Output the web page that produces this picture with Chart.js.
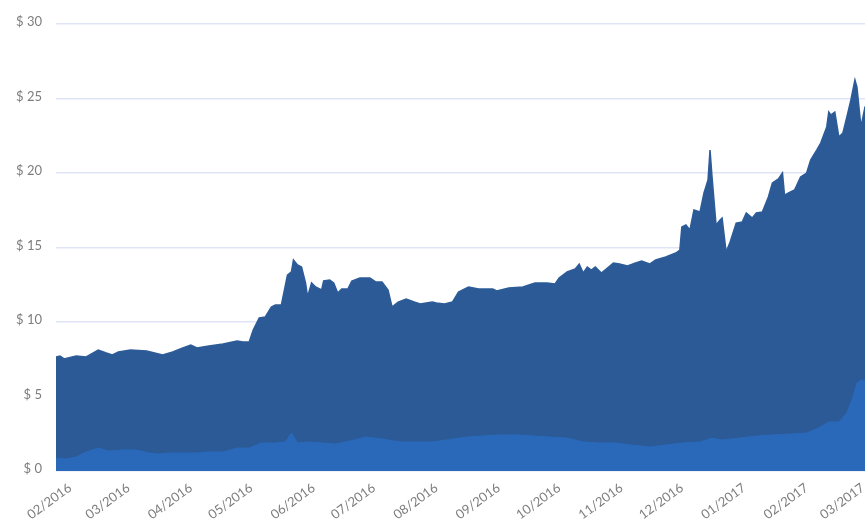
<!DOCTYPE html>
<html>
<head>
<meta charset="utf-8">
<script src="https://cdn.jsdelivr.net/npm/chart.js@4.4.0/dist/chart.umd.min.js"></script>
<style>
  html, body { margin: 0; padding: 0; background: #fff; overflow: hidden; }
  #wrap { position: relative; width: 867px; height: 524px; }
</style>
</head>
<body>
<div id="wrap"><canvas id="costChart"></canvas></div>
<script>
// x = days since 01/02/2016
const monthTicks = [0, 29, 60, 90, 121, 151, 182, 213, 243, 274, 304, 335, 366, 394];
const monthLabels = ['02/2016', '03/2016', '04/2016', '05/2016', '06/2016', '07/2016', '08/2016',
    '09/2016', '10/2016', '11/2016', '12/2016', '01/2017', '02/2017', '03/2017'];
const yTicks = [0, 5, 10, 15, 20, 25, 30];

// top of the dark area (total)
const totalDays = [-5, -3, -1, 5, 10, 16, 20, 23, 26, 32, 40, 44, 48, 53, 58, 62, 65, 71, 78, 85, 88, 91,
    93, 96, 99, 102, 104, 107, 110, 112, 113, 115, 117, 119, 120, 122, 124, 127, 128, 131, 133, 135,
    137, 140, 142, 146, 151, 154, 157, 160, 162, 165, 169, 173, 176, 182, 184, 188, 192, 195, 200,
    205, 212, 214, 220, 227, 233, 239, 243, 245, 249, 253, 255, 257, 259, 261, 263, 266, 269, 272,
    275, 279, 283, 286, 290, 293, 298, 303, 305, 306, 308, 310, 312, 315, 317, 319, 320, 321, 323,
    325, 326, 328, 330, 333, 336, 338, 341, 343, 346, 349, 351, 354, 356, 357, 359, 362, 365, 368,
    370, 373, 375, 378, 379, 380, 382, 384, 386, 388, 390, 392, 393, 395, 397, 398];
const totalValues = [7.65, 7.72, 7.52, 7.72, 7.65, 8.12, 7.92, 7.79, 7.99, 8.12, 8.05, 7.92, 7.79, 7.99,
    8.26, 8.46, 8.26, 8.39, 8.52, 8.72, 8.66, 8.66,
    9.46, 10.27, 10.34, 11.0, 11.14, 11.14, 13.15, 13.36, 14.16, 13.83, 13.69, 12.62, 11.68, 12.62,
    12.35, 12.15, 12.75, 12.82, 12.62, 11.95,
    12.21, 12.21, 12.75, 12.95, 12.95, 12.68, 12.68, 12.15, 11.0, 11.34, 11.54, 11.34, 11.21, 11.34,
    11.28, 11.21, 11.34, 12.01, 12.35,
    12.21, 12.21, 12.08, 12.28, 12.35, 12.62, 12.62, 12.55, 12.95, 13.36, 13.56, 13.89, 13.29, 13.69,
    13.49, 13.69, 13.29, 13.62, 13.96,
    13.89, 13.76, 13.96, 14.09, 13.89, 14.16, 14.36, 14.63, 14.83, 16.38, 16.51, 16.17, 17.52, 17.38,
    18.66, 19.53, 21.54, 19.73, 16.51,
    16.85, 16.98, 14.7, 15.37, 16.64, 16.71, 17.32, 16.98, 17.32, 17.38, 18.39, 19.33, 19.6, 20.0,
    18.52, 18.66, 18.86, 19.73, 20.0,
    20.87, 21.54, 22.01, 23.09, 24.09, 23.89, 24.09, 22.42, 22.68, 23.76, 24.9, 26.24, 25.77, 23.09,
    24.43, 24.6];

// top of the light area (lower component)
const baseDays = [-5, 0, 5, 10, 16, 21, 28, 35, 41, 46, 51, 58, 65, 71, 78, 85, 91, 97, 104, 109, 112,
    115, 121, 127, 134, 141, 149, 157, 166, 174, 182, 190, 199, 207, 215, 224, 232, 240, 249, 257,
    265, 273, 281, 290, 298, 306, 315, 321, 326, 335, 343, 351, 360, 368, 374, 379, 384, 388, 391,
    393, 395, 398];
const baseValues = [0.87, 0.81, 0.94, 1.28, 1.54, 1.34, 1.41, 1.41, 1.21, 1.14, 1.21, 1.21, 1.21, 1.28,
    1.28, 1.54, 1.54, 1.88, 1.88, 1.95, 2.55,
    1.88, 1.95, 1.88, 1.81, 2.01, 2.28, 2.15, 1.95, 1.95, 1.95, 2.1, 2.28, 2.35, 2.42, 2.42, 2.35,
    2.28, 2.21, 1.95,
    1.88, 1.88, 1.74, 1.61, 1.74, 1.88, 1.95, 2.21, 2.08, 2.21, 2.35, 2.42, 2.48, 2.55, 2.89, 3.29,
    3.29, 3.89, 4.97,
    5.9, 6.1, 6.1];

const toPoints = (xs, ys) => xs.map((x, i) => ({ x: x, y: ys[i] }));

const labelColor = '#7d7d7d';

new Chart(document.getElementById('costChart'), {
    type: 'line',
    data: {
        datasets: [{
            label: 'Base',
            data: toPoints(baseDays, baseValues),
            borderColor: '#2a69ba',
            backgroundColor: '#2a69ba',
            borderWidth: 1,
            pointRadius: 0,
            fill: 'origin',
            tension: 0,
            order: 0
        }, {
            label: 'Total',
            data: toPoints(totalDays, totalValues),
            borderColor: '#2d5c98',
            backgroundColor: '#2b5a96',
            borderWidth: 1.5,
            pointRadius: 0,
            fill: 'origin',
            tension: 0,
            order: 1
        }]
    },
    options: {
        responsive: true,
        maintainAspectRatio: false,
        animation: false,
        layout: { padding: { top: 24, right: 0, left: 0, bottom: 0 } },
        plugins: {
            legend: { display: false },
            tooltip: { enabled: false }
        },
        scales: {
            x: {
                type: 'linear',
                min: -5,
                max: 398,
                afterBuildTicks: function(scale) {
                    scale.ticks = monthTicks.map(v => ({ value: v }));
                },
                afterFit: function(scale) {
                    // fixed axis band, and no extra side padding for the rotated labels
                    scale.height = 53;
                    scale.paddingLeft = 0;
                    scale.paddingRight = 0;
                },
                grid: { display: false },
                border: { display: false },
                ticks: {
                    autoSkip: false,
                    minRotation: 36,
                    maxRotation: 36,
                    padding: 1,
                    labelOffset: 4,
                    color: labelColor,
                    font: { family: 'Lato', size: 13 },
                    callback: function(value) {
                        const i = monthTicks.indexOf(value);
                        return i >= 0 ? monthLabels[i] : '';
                    }
                }
            },
            y: {
                min: 0,
                max: 30,
                afterBuildTicks: function(scale) {
                    scale.ticks = yTicks.map(v => ({ value: v }));
                },
                afterFit: function(scale) {
                    scale.width = 56;
                },
                grid: {
                    color: '#e0e4f7',
                    lineWidth: 1.5,
                    drawTicks: false
                },
                border: { display: false },
                ticks: {
                    padding: 14,
                    labelOffset: -2,
                    color: labelColor,
                    font: { family: 'Lato', size: 13 },
                    callback: function(value) {
                        return '$ ' + value;
                    }
                }
            }
        }
    }
});
</script>
</body>
</html>
